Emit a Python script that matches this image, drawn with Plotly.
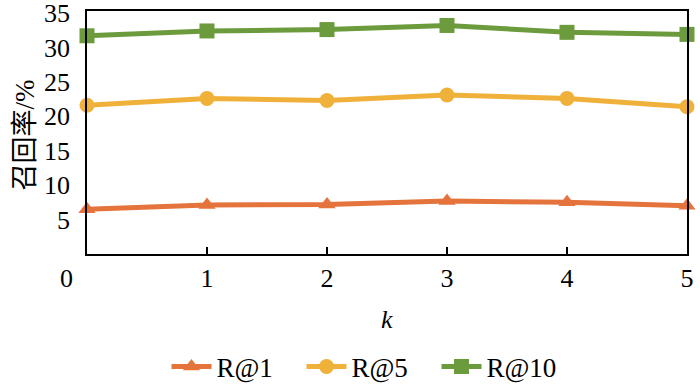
import plotly.graph_objects as go

k = [0, 1, 2, 3, 4, 5]
r1 = [6.5, 7.1, 7.2, 7.7, 7.5, 7.0]
r5 = [21.6, 22.6, 22.3, 23.1, 22.6, 21.4]
r10 = [31.7, 32.4, 32.6, 33.2, 32.2, 31.9]
names = ["R@1", "R@5", "R@10"]
colors = ["#E4733C", "#F0B13A", "#6B9B3C"]
symbols = ["triangle-up", "circle", "square"]

FONT = "Liberation Serif, Times New Roman, Noto Sans CJK SC, serif"
FS = 26

fig = go.Figure()
for name, ys, c, s in zip(names, [r1, r5, r10], colors, symbols):
    fig.add_trace(go.Scatter(
        x=k, y=ys, name=name, mode="lines+markers",
        line=dict(color=c, width=5),
        marker=dict(symbol=s, size=15, color=c),
        cliponaxis=False,
    ))

fig.update_layout(
    width=700, height=385,
    margin=dict(l=87, r=13, t=11, b=131, autoexpand=False),
    plot_bgcolor="white", paper_bgcolor="white",
    font=dict(family=FONT, size=FS, color="black"),
    showlegend=True,
    legend=dict(orientation="h", x=0.47, xanchor="center", y=-0.465, yanchor="middle",
                font=dict(size=27, family=FONT), itemwidth=40, tracegroupgap=0,
                entrywidth=80),
    xaxis=dict(range=[0, 5], tickvals=[1, 2, 3, 4, 5], ticks="inside", ticklen=7,
               tickcolor="black", tickwidth=1.5, automargin=False,
               ticklabeloverflow="allow",
               showline=True, linecolor="black", linewidth=1.5, mirror=True,
               showgrid=False, zeroline=False),
    yaxis=dict(range=[0, 35.3], tickvals=[5, 10, 15, 20, 25, 30, 35],
               ticks="outside", ticklen=10, tickcolor="rgba(0,0,0,0)",
               ticklabeloverflow="allow",
               showline=True, linecolor="black", linewidth=1.5, mirror=True,
               showgrid=False, zeroline=False, automargin=False),
)
fig.add_annotation(text="0", x=0, y=0, xref="x", yref="y", xshift=-21, yshift=-24,
                   showarrow=False, font=dict(size=FS, family=FONT))
fig.add_annotation(text="<i>k</i>", x=0.5, xref="paper", y=-0.269, yref="paper",
                   yanchor="middle", showarrow=False, font=dict(size=FS, family=FONT))
fig.add_annotation(text="召回率/%", x=-0.104, xref="paper", xanchor="center", y=0.49, yref="paper",
                   showarrow=False, textangle=-90, font=dict(size=27, family=FONT))

fig.write_html("out.html", config={"displayModeBar": False},
               post_script="document.body.style.margin='0';")
